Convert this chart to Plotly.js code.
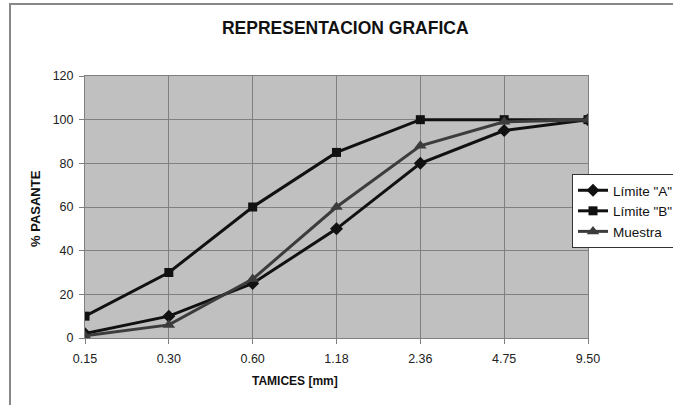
<!DOCTYPE html>
<html>
<head>
<meta charset="utf-8">
<script src="https://cdn.plot.ly/plotly-3.0.1.min.js"></script>
<style>
  html, body { margin: 0; padding: 0; background: #ffffff; overflow: hidden; }
  #wrap { position: relative; width: 673px; height: 405px; overflow: hidden; }
  #chart { position: absolute; left: 0; top: 0; width: 673px; height: 405px; }
  #frame { position: absolute; left: 9px; top: 3px; width: 700px; height: 420px;
           border-top: 2px solid #888888; border-left: 2px solid #888888;
           pointer-events: none; }
</style>
</head>
<body>
<div id="wrap">
  <div id="chart"></div>
  <div id="frame"></div>
</div>
<script>
// Data
const tamices = ['0.15', '0.30', '0.60', '1.18', '2.36', '4.75', '9.50'];
const limiteA = [2, 10, 25, 50, 80, 95, 100];
const limiteB = [10, 30, 60, 85, 100, 100, 100];
const muestra = [1, 6, 27, 60, 88, 99, 100];
const yTicks = [0, 20, 40, 60, 80, 100, 120];

const FONT = '"Liberation Sans", Arial, sans-serif';

const traces = [
  {
    x: tamices, y: limiteA, name: 'Límite "A"', type: 'scatter', mode: 'lines+markers',
    line: { color: '#111111', width: 3 },
    marker: { symbol: 'diamond', size: 10, color: '#111111' }
  },
  {
    x: tamices, y: limiteB, name: 'Límite "B"', type: 'scatter', mode: 'lines+markers',
    line: { color: '#111111', width: 3 },
    marker: { symbol: 'square', size: 9, color: '#111111' }
  },
  {
    x: tamices, y: muestra, name: 'Muestra', type: 'scatter', mode: 'lines+markers',
    line: { color: '#3c3c3c', width: 3 },
    marker: { symbol: 'triangle-up', size: 11, color: '#3c3c3c' }
  }
];

const layout = {
  width: 673, height: 405,
  margin: { l: 85, r: 85, t: 76, b: 67, autoexpand: false },
  paper_bgcolor: '#ffffff',
  plot_bgcolor: '#c0c0c0',
  font: { family: FONT, size: 12, color: '#222222' },
  title: {
    text: '<b>REPRESENTACION GRAFICA</b>',
    font: { family: FONT, size: 17.5, color: '#111111' },
    x: 0.513, xref: 'container', xanchor: 'center',
    y: 0.93, yref: 'container', yanchor: 'middle'
  },
  xaxis: {
    type: 'category',
    categoryorder: 'array', categoryarray: tamices,
    range: [0, tamices.length - 1],
    showgrid: true, gridcolor: '#808080', gridwidth: 1,
    showline: true, linecolor: '#808080', linewidth: 1, mirror: true,
    ticks: 'outside', ticklen: 5, tickcolor: '#808080',
    ticklabelstandoff: 4,
    tickfont: { family: FONT, size: 12.5, color: '#222222' },
    zeroline: false, fixedrange: true
  },
  yaxis: {
    range: [0, 120],
    tickvals: yTicks,
    showgrid: true, gridcolor: '#808080', gridwidth: 1,
    showline: true, linecolor: '#808080', linewidth: 1, mirror: true,
    ticks: 'outside', ticklen: 5, tickcolor: '#808080',
    ticklabelstandoff: 3,
    tickfont: { family: FONT, size: 12.5, color: '#222222' },
    zeroline: false, fixedrange: true
  },
  legend: {
    x: (572 - 85) / 503, xanchor: 'left',
    y: (338 - 174) / 262, yanchor: 'top',
    bgcolor: '#ffffff', bordercolor: '#333333', borderwidth: 1,
    font: { family: FONT, size: 13.5, color: '#111111' },
    itemwidth: 30
  },
  annotations: [
    {
      text: '<b>TAMICES [mm]</b>', xref: 'paper', yref: 'paper',
      x: (295 - 85) / 503, y: (338 - 381) / 262, xanchor: 'center', yanchor: 'middle',
      showarrow: false, font: { family: FONT, size: 12, color: '#111111' }
    },
    {
      text: '<b>% PASANTE</b>', xref: 'paper', yref: 'paper',
      x: (35 - 85) / 503, y: (338 - 209) / 262, xanchor: 'center', yanchor: 'middle',
      textangle: -90,
      showarrow: false, font: { family: FONT, size: 13, color: '#111111' }
    }
  ],
  showlegend: true
};

Plotly.newPlot('chart', traces, layout, { displayModeBar: false, staticPlot: true });
</script>
</body>
</html>
